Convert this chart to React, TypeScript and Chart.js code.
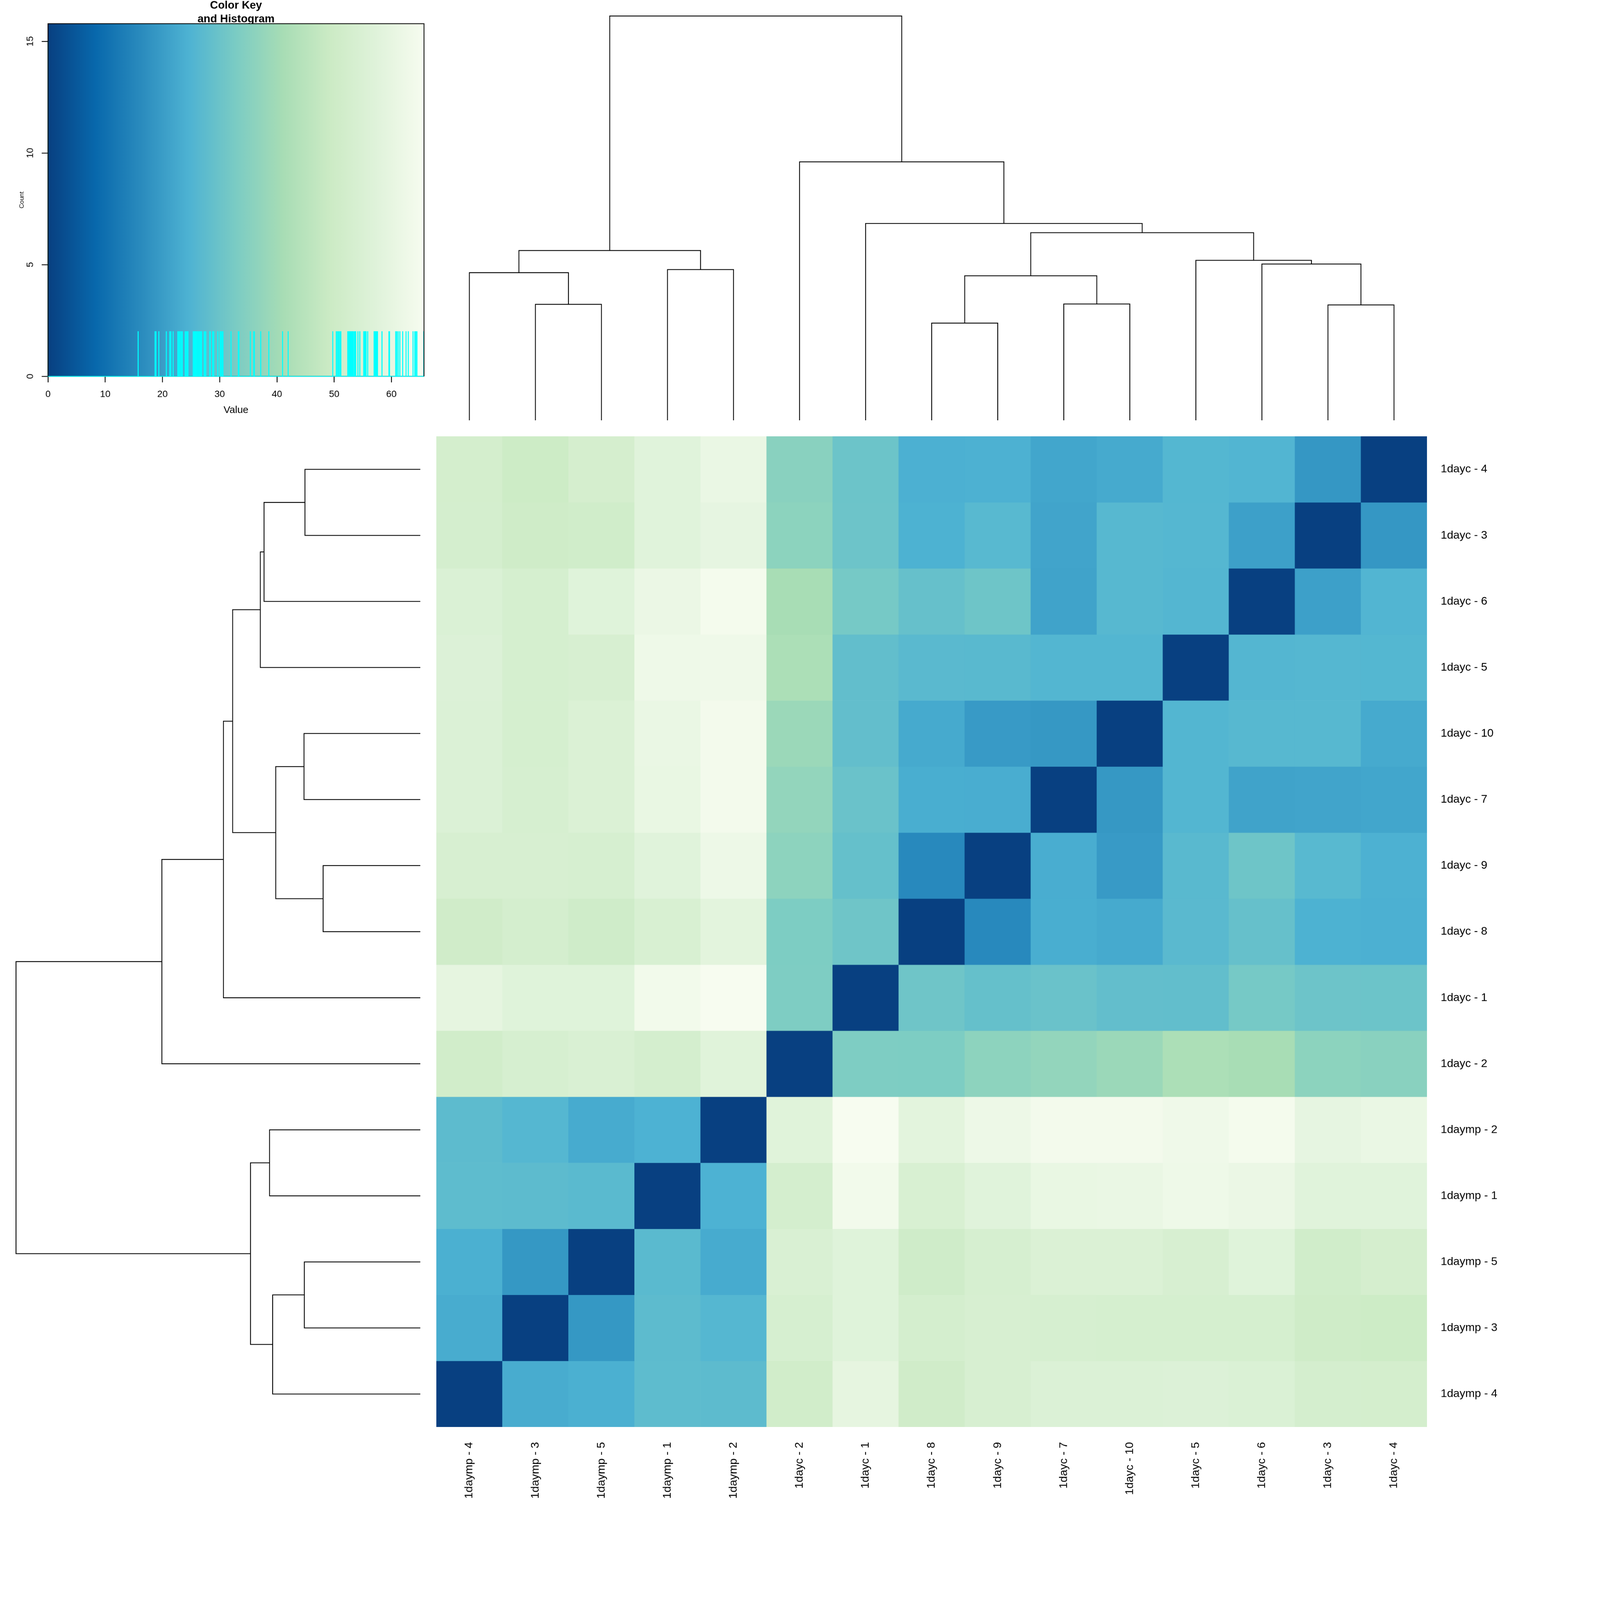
import React, { useEffect, useRef, useState } from "react";
import { Chart, registerables } from "chart.js";

Chart.register(...registerables);

const FONT = '"Liberation Sans", Arial, Helvetica, sans-serif';

// Samples in heatmap row order (top to bottom); columns are the reverse.
const samples = [
  "1dayc - 4", "1dayc - 3", "1dayc - 6", "1dayc - 5", "1dayc - 10",
  "1dayc - 7", "1dayc - 9", "1dayc - 8", "1dayc - 1", "1dayc - 2",
  "1daymp - 2", "1daymp - 1", "1daymp - 5", "1daymp - 3", "1daymp - 4",
];

// Distance rows, one per sample, in the same order as `samples`.
const distC4 = [0, 18.75, 25.4, 25.8, 22.8, 21.9, 24.3, 24.1, 30.1, 35.4, 61.0, 57.4, 52.8, 49.8, 52.4];
const distC3 = [18.75, 0, 20.7, 26.0, 26.2, 21.5, 26.5, 24.4, 30.3, 36.0, 59.7, 57.5, 51.0, 50.4, 52.5];
const distC6 = [25.4, 20.7, 0, 25.7, 26.3, 21.3, 30.5, 29.0, 32.0, 41.0, 64.5, 61.5, 57.0, 52.9, 55.2];
const distC5 = [25.8, 26.0, 25.7, 0, 25.5, 25.6, 26.65, 26.75, 28.3, 42.0, 63.0, 62.6, 53.6, 53.0, 55.9];
const distC10 = [22.8, 26.2, 26.3, 25.5, 0, 18.9, 19.4, 22.7, 28.4, 38.6, 64.1, 61.2, 55.3, 53.1, 55.6];
const distC7 = [21.9, 21.5, 21.3, 25.6, 18.9, 0, 23.4, 23.5, 29.7, 37.2, 64.3, 60.8, 55.4, 53.2, 55.5];
const distC9 = [24.3, 26.5, 30.5, 26.65, 19.4, 23.4, 0, 15.8, 28.8, 36.1, 62.0, 57.6, 53.3, 53.7, 53.8];
const distC8 = [24.1, 24.4, 29.0, 26.75, 22.7, 23.5, 15.8, 0, 30.6, 33.3, 58.4, 54.2, 50.6, 52.6, 50.8];
const distC1 = [30.1, 30.3, 32.0, 28.3, 28.4, 29.7, 28.8, 30.6, 0, 33.4, 65.7, 63.8, 57.1, 57.2, 59.6];
const distC2 = [35.4, 36.0, 41.0, 42.0, 38.6, 37.2, 36.1, 33.3, 33.4, 0, 57.3, 52.7, 54.5, 53.4, 51.2];
const distMp2 = [61.0, 59.7, 64.5, 63.0, 64.1, 64.3, 62.0, 58.4, 65.7, 57.3, 0, 24.5, 23.0, 25.9, 27.3];
const distMp1 = [57.4, 57.5, 61.5, 62.6, 61.2, 60.8, 57.6, 54.2, 63.8, 52.7, 24.5, 0, 26.9, 27.4, 27.6];
const distMp5 = [52.8, 51.0, 57.0, 53.6, 55.3, 55.4, 53.3, 50.6, 57.1, 54.5, 23.0, 26.9, 0, 18.85, 24.0];
const distMp3 = [49.8, 50.4, 52.9, 53.0, 53.1, 53.2, 53.7, 52.6, 57.2, 53.4, 25.9, 27.4, 18.85, 0, 23.2];
const distMp4 = [52.4, 52.5, 55.2, 55.9, 55.6, 55.5, 53.8, 50.8, 59.6, 51.2, 27.3, 27.6, 24.0, 23.2, 0];

const distanceRows = [
  distC4, distC3, distC6, distC5, distC10, distC7, distC9, distC8,
  distC1, distC2, distMp2, distMp1, distMp5, distMp3, distMp4,
];

// Cluster tree (complete linkage), leaves left-to-right = heatmap columns.
type Tree = string | [Tree, Tree];
const dendrogramTree: Tree = [
  [["1daymp - 4", ["1daymp - 3", "1daymp - 5"]], ["1daymp - 1", "1daymp - 2"]],
  ["1dayc - 2", ["1dayc - 1", [
    [["1dayc - 8", "1dayc - 9"], ["1dayc - 7", "1dayc - 10"]],
    ["1dayc - 5", ["1dayc - 6", ["1dayc - 3", "1dayc - 4"]]],
  ]]],
];

const keyXTicks = [0, 10, 20, 30, 40, 50, 60];
const keyYTicks = [0, 5, 10, 15];
const gnbuColors = ["#084081", "#0868ac", "#2b8cbe", "#4eb3d3", "#7bccc4", "#a8ddb5", "#ccebc5", "#e0f3db", "#f7fcf0"];
const histogramBins = 2000;

function dist(a: string, b: string): number {
  return distanceRows[samples.indexOf(a)][samples.indexOf(b)];
}

function leaves(t: Tree): string[] {
  return typeof t === "string" ? [t] : [...leaves(t[0]), ...leaves(t[1])];
}

const colLabels = leaves(dendrogramTree);
const rowLabels = [...colLabels].reverse();
const N = colLabels.length;
const allValues = distanceRows.flat();
const maxVal = Math.max(...allValues);

function hexToRgb(h: string) {
  const v = parseInt(h.slice(1), 16);
  return [(v >> 16) & 255, (v >> 8) & 255, v & 255];
}

function valueColor(v: number): string {
  const n = gnbuColors.length;
  const t = Math.max(0, Math.min(1, v / maxVal)) * (n - 1);
  const i = Math.min(Math.floor(t), n - 2);
  const f = t - i;
  const a = hexToRgb(gnbuColors[i]);
  const b = hexToRgb(gnbuColors[i + 1]);
  const c = a.map((x, k) => Math.round(x + (b[k] - x) * f));
  return `rgb(${c[0]},${c[1]},${c[2]})`;
}

interface NodePos { pos: number; height: number; }
type Segment = [NodePos, NodePos, number];

function layoutTree(t: Tree, segs: Segment[]): NodePos {
  if (typeof t === "string") return { pos: colLabels.indexOf(t) + 0.5, height: 0 };
  const l = layoutTree(t[0], segs);
  const r = layoutTree(t[1], segs);
  let h = 0;
  for (const a of leaves(t[0])) for (const b of leaves(t[1])) h = Math.max(h, dist(a, b));
  segs.push([l, r, h]);
  return { pos: (l.pos + r.pos) / 2, height: h };
}

const segments: Segment[] = [];
const rootNode = layoutTree(dendrogramTree, segments);

function histogramPoints() {
  const w = maxVal / histogramBins;
  const counts = new Array(histogramBins).fill(0);
  for (const v of allValues) {
    let idx = Math.ceil(v / w - 1e-9) - 1;
    if (idx < 0) idx = 0;
    if (idx > histogramBins - 1) idx = histogramBins - 1;
    counts[idx]++;
  }
  const pts = counts.map((c, i) => ({ x: i * w, y: c }));
  pts.push({ x: maxVal, y: counts[histogramBins - 1] });
  return { pts, maxCount: Math.max(...counts) };
}

const LW = 2.5;
const W = 4800;

function noScalePadding(s: any) {
  s.paddingTop = 0;
  s.paddingBottom = 0;
  s.paddingLeft = 0;
  s.paddingRight = 0;
}

export default function App() {
  const keyRef = useRef<HTMLCanvasElement>(null);
  const topRef = useRef<HTMLCanvasElement>(null);
  const leftRef = useRef<HTMLCanvasElement>(null);
  const heatRef = useRef<HTMLCanvasElement>(null);
  const [scale, setScale] = useState<[number, number]>([1, 1]);

  useEffect(() => {
    const upd = () => {
      const vw = document.documentElement.clientWidth || window.innerWidth;
      const vh = document.documentElement.clientHeight || window.innerHeight;
      setScale([vw / W, vh / W]);
    };
    upd();
    window.addEventListener("resize", upd);
    return () => window.removeEventListener("resize", upd);
  }, []);

  useEffect(() => {
    Chart.defaults.font.family = FONT;
    Chart.defaults.color = "#000";
    const charts: Chart[] = [];
    const common: any = {
      animation: false,
      responsive: false,
      devicePixelRatio: 1,
      events: [],
    };
    const noPlugins = { legend: { display: false }, tooltip: { enabled: false }, title: { display: false } };

    // ---------- Color key and histogram ----------
    const { pts, maxCount } = histogramPoints();
    const yMax = maxCount / 0.95;
    const keyPlugin = {
      id: "keyBox",
      beforeDatasetsDraw(chart: any) {
        const { ctx, chartArea: a, scales } = chart;
        const x = scales.x;
        const g = ctx.createLinearGradient(x.getPixelForValue(0), 0, x.getPixelForValue(maxVal), 0);
        gnbuColors.forEach((c, i) => g.addColorStop(i / (gnbuColors.length - 1), c));
        ctx.save();
        ctx.fillStyle = g;
        ctx.fillRect(a.left, a.top, a.right - a.left, a.bottom - a.top);
        ctx.strokeStyle = "#000";
        ctx.lineWidth = LW;
        ctx.beginPath();
        ctx.moveTo(a.left, a.bottom);
        ctx.lineTo(a.right, a.bottom);
        ctx.stroke();
        ctx.restore();
      },
      afterDatasetsDraw(chart: any) {
        const { ctx, chartArea: a } = chart;
        ctx.save();
        ctx.strokeStyle = "#000";
        ctx.lineWidth = LW;
        ctx.beginPath();
        ctx.moveTo(a.left, a.bottom);
        ctx.lineTo(a.left, a.top);
        ctx.lineTo(a.right, a.top);
        ctx.lineTo(a.right, a.bottom);
        ctx.stroke();
        ctx.restore();
      },
    };
    charts.push(new Chart(keyRef.current!, {
      type: "line",
      data: {
        datasets: [{
          data: pts,
          borderColor: "#00ffff",
          borderWidth: LW,
          pointRadius: 0,
          stepped: "after",
          clip: false,
        } as any],
      },
      options: {
        ...common,
        layout: { padding: { left: 40, top: 0, right: 37, bottom: 60 }, autoPadding: false },
        plugins: {
          legend: { display: false },
          tooltip: { enabled: false },
          title: {
            display: true,
            text: ["Color Key", "and Histogram"],
            fullSize: false,
            color: "#000",
            font: { family: FONT, size: 33, weight: "bold", lineHeight: 41 / 33 },
            padding: { top: -3.5, bottom: -7.5 },
          },
        },
        scales: {
          x: {
            type: "linear",
            min: 0,
            max: maxVal,
            afterBuildTicks: (s: any) => { s.ticks = keyXTicks.map((v) => ({ value: v })); },
            afterFit: (s: any) => { s.height = 120; noScalePadding(s); },
            ticks: { font: { size: 28 }, color: "#000", padding: 19, maxRotation: 0, autoSkip: false },
            grid: { display: true, drawOnChartArea: false, drawTicks: true, tickLength: 18, color: "#000", lineWidth: LW },
            border: { display: false },
            title: { display: true, text: "Value", font: { size: 30 }, color: "#000", padding: 0 },
          },
          y: {
            type: "linear",
            min: 0,
            max: yMax,
            afterBuildTicks: (s: any) => { s.ticks = keyYTicks.map((v) => ({ value: v })); },
            afterFit: (s: any) => { s.width = 104; noScalePadding(s); },
            ticks: { font: { size: 28 }, color: "#000", padding: 18, minRotation: 90, maxRotation: 90, crossAlign: "center", autoSkip: false },
            grid: { display: true, drawOnChartArea: false, drawTicks: true, tickLength: 19, color: "#000", lineWidth: LW },
            border: { display: false },
            title: { display: true, text: "Count", font: { size: 19 }, color: "#000", padding: { top: 14.6, bottom: 0 } },
          },
        },
      } as any,
      plugins: [keyPlugin],
    }));

    // ---------- Dendrograms ----------
    const lineStyle = { borderColor: "#000", borderWidth: LW, pointRadius: 0, showLine: true, clip: false, tension: 0, fill: false };
    const topSets = segments.map(([l, r, h]) => ({
      ...lineStyle,
      data: [{ x: l.pos, y: l.height }, { x: l.pos, y: h }, { x: r.pos, y: h }, { x: r.pos, y: r.height }],
    }));
    charts.push(new Chart(topRef.current!, {
      type: "scatter",
      data: { datasets: topSets as any },
      options: {
        ...common,
        layout: { padding: 10, autoPadding: false },
        plugins: noPlugins,
        scales: {
          x: { type: "linear", min: 0, max: N, display: false },
          y: { type: "linear", min: 0, max: rootNode.height, display: false },
        },
      } as any,
    }));
    const leftSets = segments.map(([l, r, h]) => ({
      ...lineStyle,
      data: [{ x: l.height, y: l.pos }, { x: h, y: l.pos }, { x: h, y: r.pos }, { x: r.height, y: r.pos }],
    }));
    charts.push(new Chart(leftRef.current!, {
      type: "scatter",
      data: { datasets: leftSets as any },
      options: {
        ...common,
        layout: { padding: 10, autoPadding: false },
        plugins: noPlugins,
        scales: {
          x: { type: "linear", min: 0, max: rootNode.height, reverse: true, display: false },
          y: { type: "linear", min: 0, max: N, display: false },
        },
      } as any,
    }));

    // ---------- Heatmap ----------
    const heatSets = rowLabels.map((rowName, r) => ({
      data: colLabels.map(() => [N - 1 - r, N - r]),
      backgroundColor: colLabels.map((colName) => valueColor(dist(rowName, colName))),
      borderWidth: 0,
      barPercentage: 1,
      categoryPercentage: 1,
      grouped: false,
    }));
    charts.push(new Chart(heatRef.current!, {
      type: "bar",
      data: { labels: colLabels, datasets: heatSets as any },
      options: {
        ...common,
        layout: { padding: 0, autoPadding: false },
        plugins: noPlugins,
        scales: {
          x: {
            type: "category",
            offset: true,
            afterFit: (s: any) => { s.height = 519; noScalePadding(s); },
            ticks: { font: { size: 34 }, color: "#000", minRotation: 90, maxRotation: 90, autoSkip: false, padding: 45 },
            grid: { display: false, drawTicks: false },
            border: { display: false },
          },
          y: {
            type: "linear",
            position: "right",
            min: 0,
            max: N,
            afterBuildTicks: (s: any) => { s.ticks = rowLabels.map((_, r) => ({ value: N - 0.5 - r })); },
            afterFit: (s: any) => { s.width = 519; noScalePadding(s); },
            ticks: {
              font: { size: 34 },
              color: "#000",
              padding: 41,
              autoSkip: false,
              callback: (v: any) => rowLabels[Math.round(N - 0.5 - Number(v))],
            },
            grid: { display: false, drawTicks: false },
            border: { display: false },
          },
        },
      } as any,
    }));

    return () => charts.forEach((c) => c.destroy());
  }, []);

  const abs = (left: number, top: number, w: number, h: number): React.CSSProperties => ({
    position: "absolute", left, top, width: w, height: h, display: "block",
  });

  return (
    <div style={{ position: "fixed", left: 0, top: 0, right: 0, bottom: 0, overflow: "hidden", background: "#fff" }}>
      <div
        style={{
          position: "absolute", left: 0, top: 0, width: W, height: W, background: "#fff",
          transform: `scale(${scale[0]}, ${scale[1]})`, transformOrigin: "0 0",
        }}
      >
        <canvas ref={keyRef} width={1309} height={1309} style={abs(0, 0, 1309, 1309)} />
        <canvas ref={topRef} width={2992} height={1233} style={abs(1299, 38, 2992, 1233)} />
        <canvas ref={leftRef} width={1233} height={2992} style={abs(38, 1299, 1233, 2992)} />
        <canvas ref={heatRef} width={3491} height={3491} style={abs(1309, 1309, 3491, 3491)} />
      </div>
    </div>
  );
}
